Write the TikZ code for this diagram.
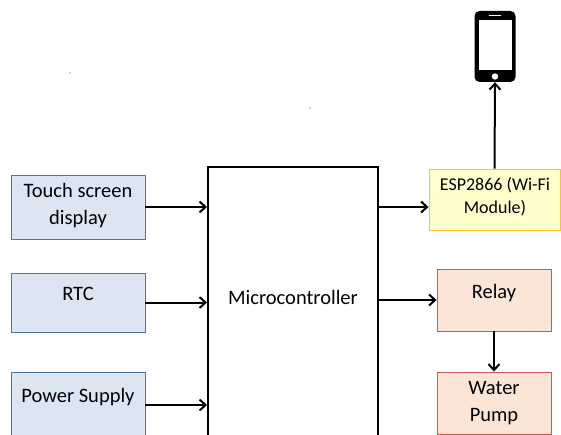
\documentclass[tikz,border=0pt]{standalone}
\usepackage{fontspec}
\setmainfont{Carlito}
\usepackage{xcolor}
\definecolor{bluefill}{HTML}{DCE6F2}
\definecolor{blueline}{HTML}{4F74A8}
\definecolor{yellowfill}{HTML}{FFFFCC}
\definecolor{yellowline}{HTML}{F8C33A}
\definecolor{redfill}{HTML}{FBE5D6}
\definecolor{redline}{HTML}{CC5555}
\definecolor{textdark}{HTML}{000008}
\usetikzlibrary{arrows.meta,positioning,calc}

\begin{document}
\begin{tikzpicture}[x=1pt,y=-1pt,
    inbox/.style={draw=blueline, fill=bluefill, line width=0.9pt, minimum width=134pt},
    espbox/.style={draw=yellowline, fill=yellowfill, line width=0.9pt, minimum width=131pt, minimum height=61pt},
    outbox/.style={draw=redline, fill=redfill, line width=0.9pt, minimum width=114pt, minimum height=62pt},
    mcbox/.style={draw=black, line width=2pt, minimum width=170pt, minimum height=278pt},
    phonebody/.style={fill=black, rounded corners=5pt, minimum width=41pt, minimum height=71pt, inner sep=0pt},
    lbl/.style={text=textdark, font=\fontsize{20.5}{27}\selectfont, align=center, inner sep=0pt},
    smalllbl/.style={text=textdark, font=\fontsize{18}{23}\selectfont, align=center, inner sep=0pt},
    arr/.style={-{Straight Barb[length=6pt,width=11pt]}, line width=2pt, black}]
  \useasboundingbox (0,0) rectangle (561,435);

  % input blocks
  \node[inbox, minimum height=64pt] (touch) at (78,207) {};
  \node[inbox, minimum height=59pt] (rtc) at (78,302.5) {};
  \node[inbox, minimum height=66pt] (power) at (78,405) {};
  \node[lbl] (touchtext) at (78,206) {Touch screen\\display};
  \node[lbl] (rtctext) at (78,294) {RTC};
  \node[lbl] (powertext) at (78,397) {Power Supply};

  % controller
  \node[mcbox] (mc) at (293,306) {};
  \node[lbl] (mctext) at (293,297) {Microcontroller};

  % output blocks
  \node[espbox] (esp) at (494.5,199.5) {};
  \node[smalllbl] (esptext) at (495,197) {ESP2866 (Wi-Fi\\Module)};
  \node[outbox] (relay) at (494,300) {};
  \node[lbl] (relaytext) at (494,293) {Relay};
  \node[outbox] (pump) at (494,403) {};
  \node[lbl] (pumptext) at (494,403) {Water\\Pump};

  % phone
  \node[phonebody] (phone) at (495,46.5) {};
  \fill[white] (478.5,20) rectangle (511.5,70.5);
  \draw[white, line width=1.6pt, line cap=round] (489.5,15.7) -- (500.5,15.7);
  \fill[white] (495,76.5) circle (3.2);

  % stray marks
  \node[font=\fontsize{9}{9}\selectfont, inner sep=0pt, text=blueline] (markone) at (70,75) {`};
  \node[font=\fontsize{9}{9}\selectfont, inner sep=0pt, text=blueline] (marktwo) at (310,110) {`};

  % connections
  \draw[arr] (touch.east) -- (touch.east -| mc.west);
  \draw[arr] (rtc.east) -- (rtc.east -| mc.west);
  \draw[arr] (power.east) -- (power.east -| mc.west);
  \draw[arr] (mc.east |- touch.east) -- (esp.west |- touch.east);
  \draw[arr] (mc.east |- relay.west) -- (relay.west);
  \draw[arr] (esp.north) -- (phone.south);
  \draw[arr] (relay.south) -- (pump.north);
\end{tikzpicture}
\end{document}
